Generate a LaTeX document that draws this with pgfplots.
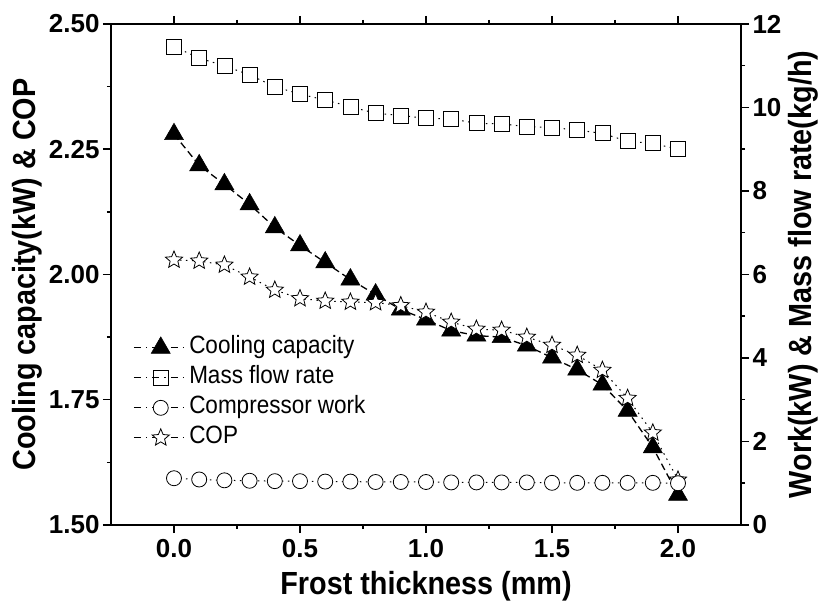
\documentclass[border=0pt]{standalone}
\usepackage{fontspec}
\setmainfont{Liberation Sans}[FakeStretch=0.9]
\newfontfamily\tickfont{Liberation Sans}
\usepackage{pgfplots}
\pgfplotsset{compat=1.18}

\pgfdeclareplotmark{ostar}{%
  \pgfpathmoveto{\pgfpointpolar{90}{\pgfplotmarksize}}%
  \pgfpathlineto{\pgfpointpolar{126}{0.45\pgfplotmarksize}}%
  \pgfpathlineto{\pgfpointpolar{162}{\pgfplotmarksize}}%
  \pgfpathlineto{\pgfpointpolar{198}{0.45\pgfplotmarksize}}%
  \pgfpathlineto{\pgfpointpolar{234}{\pgfplotmarksize}}%
  \pgfpathlineto{\pgfpointpolar{270}{0.45\pgfplotmarksize}}%
  \pgfpathlineto{\pgfpointpolar{306}{\pgfplotmarksize}}%
  \pgfpathlineto{\pgfpointpolar{342}{0.45\pgfplotmarksize}}%
  \pgfpathlineto{\pgfpointpolar{18}{\pgfplotmarksize}}%
  \pgfpathlineto{\pgfpointpolar{54}{0.45\pgfplotmarksize}}%
  \pgfpathclose
  \pgfusepathqfillstroke}

\pgfplotstableread{
x    cool   cop
0.0  2.280  2.029
0.1  2.218  2.027
0.2  2.180  2.019
0.3  2.140  1.995
0.4  2.094  1.969
0.5  2.058  1.952
0.6  2.024  1.947
0.7  1.990  1.945
0.8  1.960  1.944
0.9  1.930  1.938
1.0  1.910  1.925
1.1  1.888  1.905
1.2  1.878  1.891
1.3  1.875  1.889
1.4  1.858  1.875
1.5  1.834  1.859
1.6  1.810  1.839
1.7  1.780  1.809
1.8  1.728  1.753
1.9  1.655  1.684
2.0  1.560  1.590
}\lefttable

\pgfplotstableread{
x    mass   work
0.0  11.46  1.12
0.1  11.18  1.09
0.2  11.00  1.07
0.3  10.78  1.06
0.4  10.50  1.05
0.5  10.32  1.05
0.6  10.18  1.04
0.7  10.02  1.04
0.8  9.86   1.03
0.9  9.81   1.03
1.0  9.74   1.03
1.1  9.73   1.02
1.2  9.62   1.02
1.3  9.61   1.02
1.4  9.54   1.02
1.5  9.52   1.01
1.6  9.46   1.01
1.7  9.38   1.01
1.8  9.19   1.01
1.9  9.14   1.01
2.0  9.00   1.00
}\righttable

\pgfplotsset{
  common/.style={
    scale only axis, width=630pt, height=501pt,
    xmin=-0.25, xmax=2.25,
    tick align=outside,
    major tick length=8pt, minor tick length=4pt,
    axis line style={line width=1.5pt},
    every tick/.style={line width=1.5pt, black},
    ticklabel style={font=\tickfont\bfseries\fontsize{26}{30}\selectfont},
    /pgf/number format/assume math mode=true,
    clip=false,
  },
  legimg/.style={legend image code/.code={
      \draw[black, line width=1pt, dash pattern=on 7pt off 5pt on 1.5pt off 5pt] (0pt,0pt) -- (54pt,0pt);
      \draw[##1, solid] plot coordinates {(27pt,0pt)};
  }},
}

\begin{document}
\begin{tikzpicture}
\begin{axis}[
  common,
  ymin=1.5, ymax=2.5,
  xtick={0,0.5,1,1.5,2},
  minor xtick={0.25,0.75,1.25,1.75},
  ytick={1.5,1.75,2,2.25,2.5},
  minor ytick={1.625,1.875,2.125,2.375},
  ytick pos=left, xtick pos=both,
  xticklabel style={yshift=-3pt, /pgf/number format/.cd, fixed, fixed zerofill, precision=1},
  yticklabel style={/pgf/number format/.cd, fixed, fixed zerofill, precision=2},
  xlabel={Frost thickness (mm)},
  ylabel={Cooling capacity(kW) \& COP},
  every axis x label/.style={at={(axis description cs:0.5,-0.1397)}, anchor=base,
    font=\bfseries\fontsize{32}{36}\selectfont},
  every axis y label/.style={at={(axis description cs:-0.1333,0.5)}, rotate=90, anchor=center,
    font=\bfseries\fontsize{32}{36}\selectfont},
  legend style={draw=none, fill=none, at={(axis description cs:0.035,0.38)}, anchor=north west,
    font=\fontsize{25}{30}\selectfont, row sep=4pt, inner sep=0pt,
    nodes={inner sep=1pt, text height=18pt, text depth=6pt}},
  legend cell align=left,
]
\addplot[legimg, black, line width=1.3pt, dash pattern=on 7pt off 4pt,
  mark=triangle*, mark size=11pt, mark options={solid, fill=black, line width=0.5pt}]
  table[x=x, y=cool] {\lefttable};
\addlegendentry{Cooling capacity}
\addlegendimage{legimg, black, mark=square, mark size=7.5pt, mark options={solid, fill=white, line width=0.8pt}}
\addlegendentry{Mass flow rate}
\addlegendimage{legimg, black, mark=*, mark size=7.5pt, mark options={solid, fill=white, line width=0.8pt}}
\addlegendentry{Compressor work}
\addplot[legimg, black, line width=1pt, dash pattern=on 1.5pt off 4.5pt,
  mark=ostar, mark size=9pt, mark options={solid, fill=white, line width=0.8pt}]
  table[x=x, y=cop] {\lefttable};
\addlegendentry{COP}
\end{axis}
\begin{axis}[
  common,
  ymin=0, ymax=12,
  axis x line=none, axis y line*=right,
  ytick={0,2,4,6,8,10,12},
  minor ytick={1,3,5,7,9,11},
  ylabel={Work(kW) \& Mass flow rate(kg/h)},
  every axis y label/.style={at={(axis description cs:1.0984,0.5)}, rotate=90, anchor=center,
    font=\bfseries\fontsize{32}{36}\selectfont},
]
\addplot[black, line width=1pt, dash pattern=on 1.5pt off 4.5pt,
  mark=square*, mark size=7.5pt, mark options={solid, fill=white, line width=0.8pt}]
  table[x=x, y=mass] {\righttable};
\addplot[black, line width=1pt, dash pattern=on 1.5pt off 4.5pt,
  mark=*, mark size=7.5pt, mark options={solid, fill=white, line width=0.8pt}]
  table[x=x, y=work] {\righttable};
\end{axis}
\pgfresetboundingbox
\useasboundingbox (-111pt,-85pt) rectangle (713pt,525pt);
\end{tikzpicture}
\end{document}
